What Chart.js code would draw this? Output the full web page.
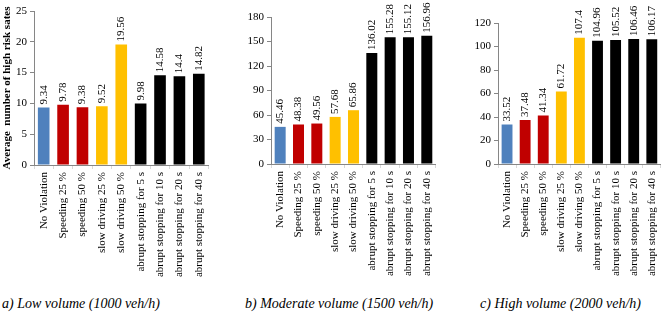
<!DOCTYPE html>
<html>
<head>
<meta charset="utf-8">
<script src="https://cdn.jsdelivr.net/npm/chart.js@4"></script>
<style>
  body { margin: 0; background: #fff; width: 669px; height: 313px; overflow: hidden; position: relative; }
  canvas { position: absolute; top: 0; }
  .titulo { position: absolute; top: 295px; font: italic 14px "Liberation Serif", "Times New Roman", serif; line-height: 18px; white-space: nowrap; color: #000; }
</style>
</head>
<body>
<canvas id="graficoBaixo" width="215" height="285" style="left:0px"></canvas>
<canvas id="graficoModerado" width="218" height="285" style="left:225px"></canvas>
<canvas id="graficoAlto" width="218" height="285" style="left:450px"></canvas>
<div class="titulo" style="left:2px">a) Low volume (1000 veh/h)</div>
<div class="titulo" style="left:245px">b) Moderate volume (1500 veh/h)</div>
<div class="titulo" style="left:480px">c) High volume (2000 veh/h)</div>
<script>
const categorias = ['No Violation', 'Speeding 25 %', 'speeding 50 %', 'slow driving 25 %', 'slow driving 50 %',
    'abrupt stopping for 5 s', 'abrupt stopping for 10 s', 'abrupt stopping for 20 s', 'abrupt stopping for 40 s'];
const volumeBaixo = [9.34, 9.78, 9.38, 9.52, 19.56, 9.98, 14.58, 14.4, 14.82];
const volumeModerado = [45.46, 48.38, 49.56, 57.68, 65.86, 136.02, 155.28, 155.12, 156.96];
const volumeAlto = [33.52, 37.48, 41.34, 61.72, 107.4, 104.96, 105.52, 106.46, 106.17];
const coresBarras = ['#4F81BD', '#C00000', '#C00000', '#FFC000', '#FFC000', '#000000', '#000000', '#000000', '#000000'];

Chart.defaults.font.family = '"Liberation Serif", "Times New Roman", serif';
Chart.defaults.font.size = 11;
Chart.defaults.color = '#000';

// escreve o valor de cada barra, girado, logo acima dela
const rotulosValores = {
    id: 'rotulosValores',
    afterDatasetsDraw(chart) {
        const ctx = chart.ctx;
        const valores = chart.data.datasets[0].data;
        ctx.save();
        ctx.font = '11px "Liberation Serif", "Times New Roman", serif';
        ctx.fillStyle = '#000';
        ctx.textAlign = 'left';
        ctx.textBaseline = 'middle';
        chart.getDatasetMeta(0).data.forEach((barra, i) => {
            ctx.save();
            ctx.translate(barra.x, barra.y - 3);
            ctx.rotate(-Math.PI / 2);
            ctx.fillText(String(valores[i]), 0, 0);
            ctx.restore();
        });
        ctx.restore();
    }
};

function criarGrafico(id, valores, maximo, passo, larguraY, topo, alturaX, tituloY) {
    const contexto = document.getElementById(id).getContext('2d');
    return new Chart(contexto, {
        type: 'bar',
        data: {
            labels: categorias,
            datasets: [{
                data: valores,
                backgroundColor: coresBarras,
                barPercentage: 0.6,
                categoryPercentage: 1,
            }],
        },
        options: {
            responsive: false,
            animation: false,
            layout: { padding: { top: topo, right: 0, left: 0, bottom: 0 } },
            plugins: {
                legend: { display: false },
                tooltip: { enabled: false },
            },
            scales: {
                x: {
                    grid: { drawOnChartArea: false, tickLength: 4, color: '#d9d9d9' },
                    border: { color: '#868686' },
                    ticks: { minRotation: 90, maxRotation: 90, autoSkip: false, padding: 3 },
                    afterFit: (escala) => { escala.height = alturaX; },
                },
                y: {
                    min: 0,
                    max: maximo,
                    ticks: { stepSize: passo, padding: 3 },
                    grid: { drawOnChartArea: false, tickLength: 4, color: '#868686' },
                    border: { color: '#868686' },
                    title: {
                        display: !!tituloY,
                        text: tituloY || '',
                        font: { size: 11, weight: 'bold' },
                        padding: { top: 1, bottom: 0 },
                    },
                    afterFit: (escala) => { escala.width = larguraY; },
                },
            },
        },
        plugins: [rotulosValores],
    });
}

criarGrafico('graficoBaixo', volumeBaixo, 25, 5, 34, 11, 120, 'Average  number of high risk sates');
criarGrafico('graficoModerado', volumeModerado, 180, 30, 46, 17, 121);
criarGrafico('graficoAlto', volumeAlto, 120, 20, 48, 23, 121);
</script>
</body>
</html>
